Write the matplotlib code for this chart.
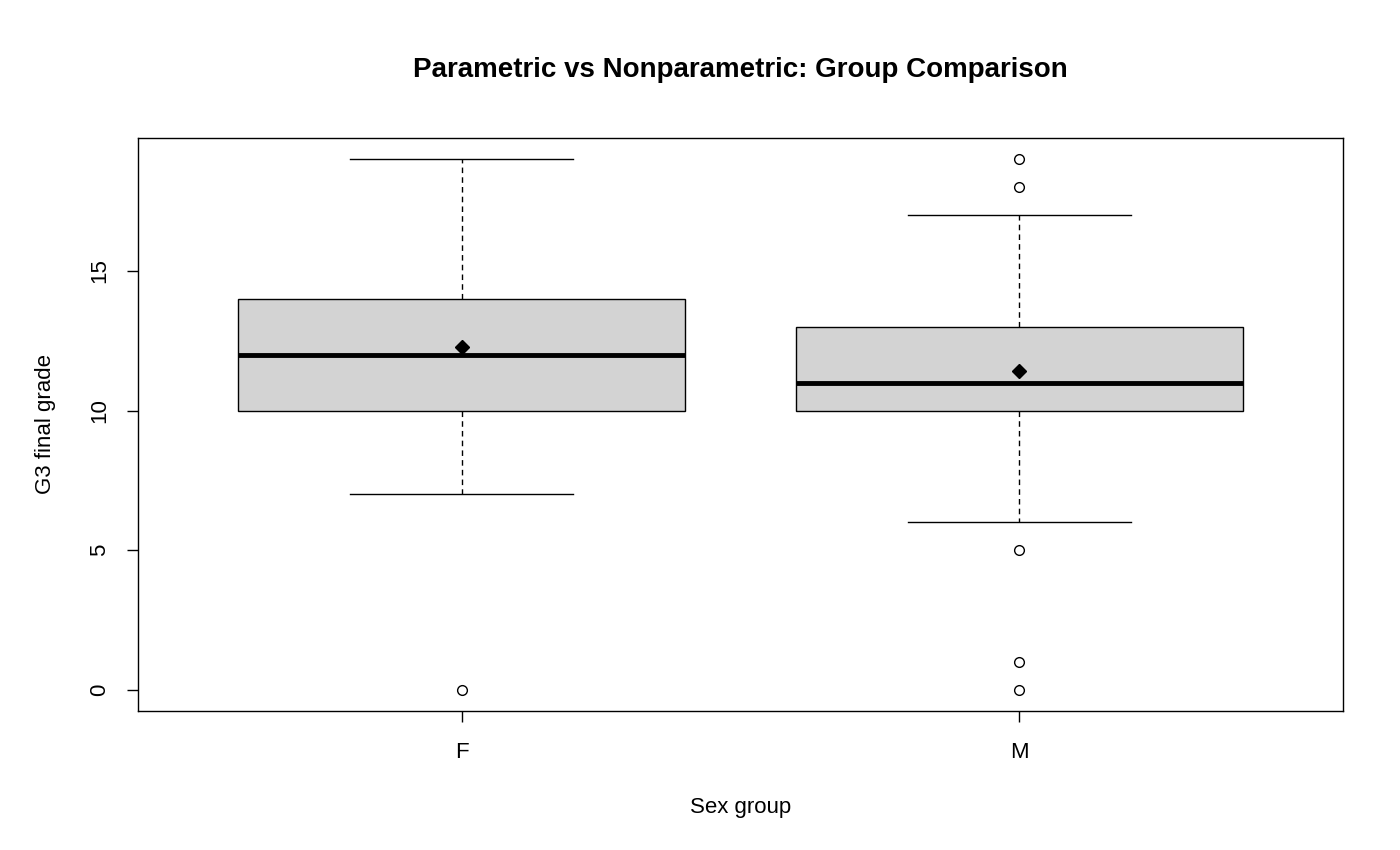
import numpy as np
import matplotlib.pyplot as plt

plt.rcParams['font.family'] = ['Liberation Sans', 'DejaVu Sans']

# summary statistics
groups = ['F', 'M']
whisker_low = [7, 6]
q1 = [10, 10]
medians = [12, 11]
q3 = [14, 13]
whisker_high = [19, 17]
means = [12.28, 11.40]
outliers = [[0], [19, 18, 5, 1, 0]]


def main():
    fig = plt.figure(figsize=(14, 8.5), dpi=100)
    ax = fig.add_axes([138 / 1400, 1 - 711 / 850, 1205 / 1400, 573 / 850])

    stats = []
    for i, name in enumerate(groups):
        stats.append({
            'label': name, 'whislo': whisker_low[i], 'q1': q1[i],
            'med': medians[i], 'q3': q3[i], 'whishi': whisker_high[i],
            'fliers': outliers[i],
        })

    positions = np.arange(1, len(groups) + 1)
    ax.bxp(stats, positions=positions, widths=0.8, patch_artist=True,
           boxprops=dict(facecolor='#D3D3D3', edgecolor='black', linewidth=1),
           medianprops=dict(color='black', linewidth=3.5, solid_capstyle='butt'),
           whiskerprops=dict(color='black', linewidth=1, linestyle=(0, (4, 3))),
           capprops=dict(color='black', linewidth=1),
           capwidths=0.4,
           flierprops=dict(marker='o', markerfacecolor='none',
                           markeredgecolor='black', markersize=7,
                           markeredgewidth=1))

    ax.plot(positions, means, linestyle='none', marker='D', color='black',
            markersize=7.5, zorder=5)

    ax.set_xlim(0.42, 2.58)
    ax.set_ylim(-0.76, 19.76)
    ax.set_xticks(positions)
    ax.set_xticklabels(groups)
    ax.set_yticks([0, 5, 10, 15])
    ax.set_yticklabels(['0', '5', '10', '15'], rotation=90, va='center')
    ax.tick_params(axis='both', direction='out', length=8, width=1,
                   labelsize=16, colors='black')
    ax.tick_params(axis='x', pad=14)
    ax.tick_params(axis='y', pad=12)
    for side in ax.spines.values():
        side.set_linewidth(1)

    fig.text(0.5 * (138 + 1343) / 1400, 1 - 70 / 850,
             'Parametric vs Nonparametric: Group Comparison',
             ha='center', va='center', fontsize=20, fontweight='bold')
    fig.text(0.5 * (138 + 1343) / 1400, 1 - 808 / 850, 'Sex group',
             ha='center', va='center', fontsize=16)
    fig.text(46 / 1400, 1 - 424 / 850, 'G3 final grade', rotation=90,
             ha='center', va='center', fontsize=16)

    fig.savefig('out.png', dpi=100)


if __name__ == '__main__':
    main()
